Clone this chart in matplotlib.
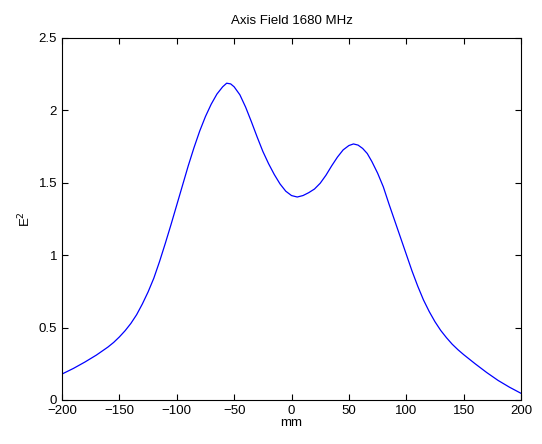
import numpy as np
import matplotlib.pyplot as plt

plt.rcParams['font.family'] = ['Liberation Sans', 'DejaVu Sans']

# position along the axis (mm) and field squared
mm = [-200, -190, -180, -170, -160, -155, -150, -145, -140, -135, -130,
      -125, -120, -115, -110, -105, -100, -95, -90, -85, -80, -75, -70,
      -65, -60, -56.5, -53, -50, -45, -40, -35, -30, -25, -20, -15, -10,
      -5, 0, 5, 10, 15, 20, 25, 30, 35, 40, 45, 50, 54, 58, 62, 66, 70,
      75, 80, 85, 90, 95, 100, 105, 110, 115, 120, 125, 130, 135, 140,
      145, 150, 160, 170, 180, 190, 200]
e2 = [0.179, 0.218, 0.262, 0.31, 0.365, 0.397, 0.435, 0.478, 0.528, 0.588,
      0.662, 0.745, 0.84, 0.955, 1.08, 1.21, 1.345, 1.48, 1.615, 1.74,
      1.855, 1.955, 2.04, 2.11, 2.16, 2.185, 2.18, 2.16, 2.105, 2.02, 1.92,
      1.815, 1.715, 1.63, 1.555, 1.49, 1.44, 1.41, 1.40, 1.41, 1.43, 1.455,
      1.495, 1.55, 1.615, 1.675, 1.725, 1.755, 1.766, 1.758, 1.735, 1.70,
      1.645, 1.565, 1.47, 1.35, 1.235, 1.12, 1.005, 0.89, 0.785, 0.69, 0.61,
      0.54, 0.48, 0.43, 0.385, 0.347, 0.313, 0.25, 0.19, 0.135, 0.088, 0.046]

fig = plt.figure(figsize=(5.42, 4.44), dpi=100)
ax = fig.add_axes([0.1144, 0.0991, 0.8469, 0.8164])
ax.plot(mm, e2, color='blue', lw=0.9)

ax.set_xlim(-200, 200)
ax.set_ylim(0, 2.5)
ax.set_xticks(np.arange(-200, 201, 50))
ax.set_yticks(np.arange(0, 2.51, 0.5))
ax.set_yticklabels(['0', '0.5', '1', '1.5', '2', '2.5'])
ax.set_xticklabels(['\u2212200', '\u2212150', '\u2212100', '\u221250', '0',
                    '50', '100', '150', '200'])
ax.tick_params(direction='in', top=True, right=True, labelsize=9.5, length=4.5)
ax.tick_params(axis='x', pad=3.5)
for s in ax.spines.values():
    s.set_linewidth(0.8)

ax.set_title('Axis Field 1680 MHz', fontsize=9.5, pad=10)
ax.set_xlabel('mm', fontsize=9.5, labelpad=0)
ax.set_ylabel('E$^2$', fontsize=9.5, labelpad=4)

fig.savefig('out.png', dpi=100)
